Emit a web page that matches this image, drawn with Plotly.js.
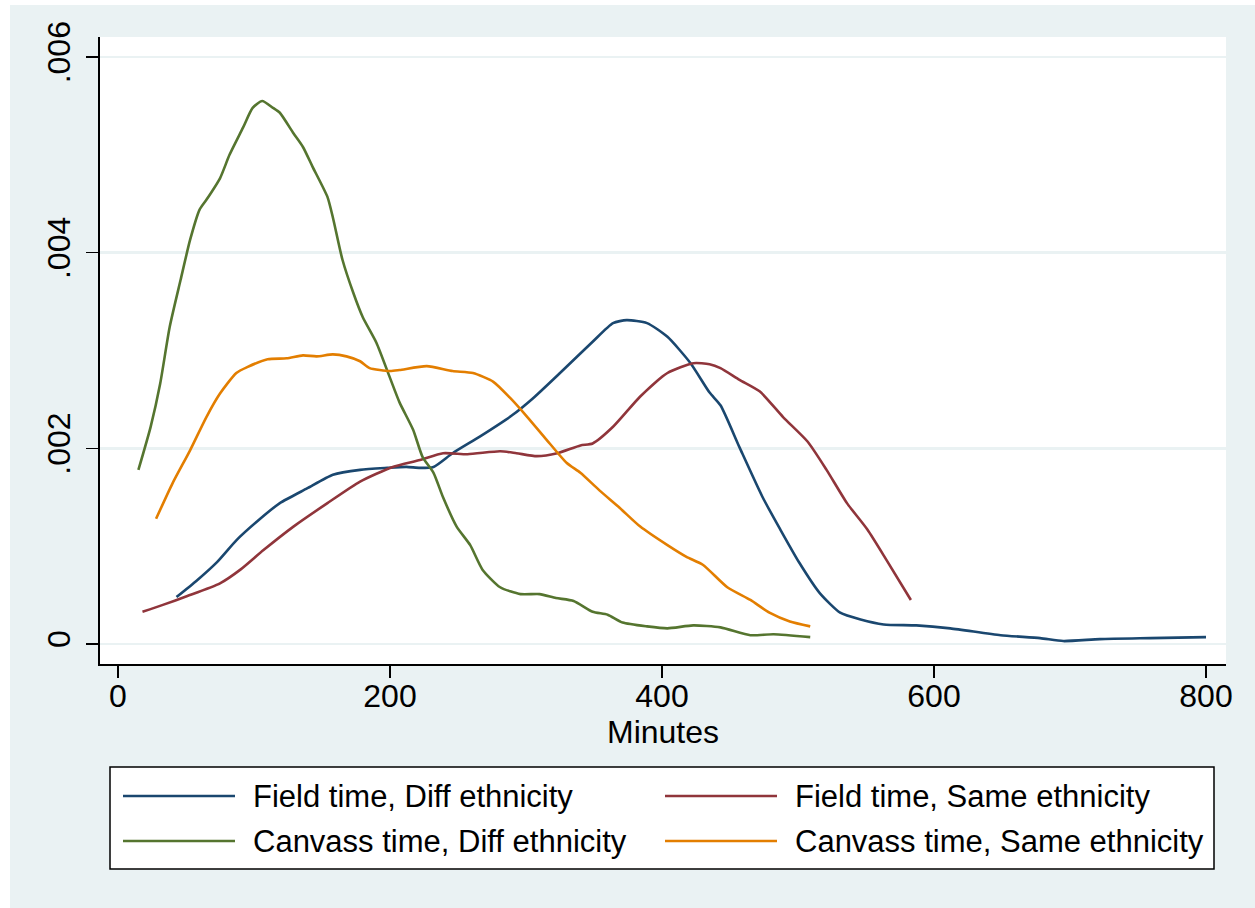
<!DOCTYPE html>
<html>
<head>
<meta charset="utf-8">
<script src="https://cdn.plot.ly/plotly-3.0.1.min.js"></script>
<style>html,body{margin:0;padding:0;background:#fff;}#chart{width:1255px;height:908px;}</style>
</head>
<body>
<div id="chart"></div>
<script>
// ---- data ----
const seriesNames = ["Field time, Diff ethnicity", "Field time, Same ethnicity",
                     "Canvass time, Diff ethnicity", "Canvass time, Same ethnicity"];
const seriesColors = ["#1a476f", "#90353b", "#55752f", "#e37e00"];

const fieldDiffX = [43, 58, 73, 87, 102, 119, 139, 158, 178, 198, 212, 222, 232, 246, 266, 290, 305, 325, 349, 364, 374, 389, 404, 421, 435, 443, 457, 474, 487, 501, 516, 531, 546, 563, 587, 612, 649, 678, 695, 722, 759, 800];
const fieldDiffY = [0.00048, 0.00065, 0.00084, 0.00106, 0.00125, 0.00144, 0.00159, 0.00173, 0.00178, 0.00180, 0.00181, 0.00180, 0.00181, 0.00195, 0.00212, 0.00234, 0.00251, 0.00277, 0.00309, 0.00328, 0.00331, 0.00328, 0.00314, 0.00287, 0.00257, 0.00244, 0.00201, 0.00150, 0.00117, 0.00083, 0.00052, 0.00032, 0.00025, 0.00020, 0.00019, 0.00016, 0.00009, 0.00006, 0.00003, 0.00005, 0.00006, 0.00007];

const fieldSameX = [18, 33, 51, 75, 90, 107, 129, 154, 178, 202, 222, 239, 257, 281, 293, 308, 323, 340, 349, 364, 384, 404, 423, 435, 443, 457, 472, 489, 507, 521, 536, 551, 565, 583];
const fieldSameY = [0.00033, 0.00040, 0.00049, 0.00062, 0.00076, 0.00096, 0.00120, 0.00144, 0.00166, 0.00181, 0.00188, 0.00195, 0.00194, 0.00197, 0.00195, 0.00192, 0.00195, 0.00203, 0.00205, 0.00222, 0.00253, 0.00277, 0.00287, 0.00286, 0.00282, 0.00270, 0.00258, 0.00232, 0.00207, 0.00178, 0.00144, 0.00117, 0.00086, 0.00045];

const canvDiffX = [15, 24, 31, 38, 46, 53, 60, 65, 75, 82, 92, 99, 106, 114, 119, 129, 136, 143, 154, 158, 165, 173, 180, 190, 200, 207, 217, 224, 232, 239, 249, 259, 268, 281, 296, 310, 322, 335, 349, 360, 371, 389, 404, 423, 443, 465, 482, 509];
const canvDiffY = [0.00178, 0.00222, 0.00266, 0.00324, 0.00372, 0.00413, 0.00444, 0.00454, 0.00476, 0.00500, 0.00528, 0.00548, 0.00555, 0.00548, 0.00543, 0.00522, 0.00508, 0.00488, 0.00457, 0.00436, 0.00393, 0.00359, 0.00334, 0.00308, 0.00272, 0.00247, 0.00219, 0.00191, 0.00175, 0.00150, 0.00120, 0.00101, 0.00076, 0.00058, 0.00051, 0.00051, 0.00047, 0.00044, 0.00033, 0.00030, 0.00022, 0.00018, 0.00016, 0.00019, 0.00017, 0.00009, 0.00010, 0.00007];

const canvSameX = [28, 40, 53, 65, 75, 87, 95, 110, 124, 136, 146, 158, 168, 178, 185, 200, 207, 227, 246, 261, 276, 288, 301, 315, 330, 340, 354, 369, 384, 404, 418, 430, 448, 465, 479, 494, 509];
const canvSameY = [0.00128, 0.00164, 0.00198, 0.00232, 0.00256, 0.00277, 0.00283, 0.00291, 0.00292, 0.00295, 0.00294, 0.00296, 0.00294, 0.00289, 0.00282, 0.00279, 0.00280, 0.00284, 0.00279, 0.00277, 0.00268, 0.00252, 0.00232, 0.00209, 0.00185, 0.00175, 0.00157, 0.00139, 0.00120, 0.00101, 0.00089, 0.00081, 0.00058, 0.00045, 0.00032, 0.00023, 0.00018];

const xTickVals = [0, 200, 400, 600, 800];
const xTickText = ["0", "200", "400", "600", "800"];
const yTickVals = [0, 0.002, 0.004, 0.006];
const yTickText = ["0", ".002", ".004", ".006"];
const xTitle = "Minutes";

// ---- geometry (pixels) ----
const W = 1255, H = 908;
const L = 100, R = 1226, T = 37, B = 664;
const pw = R - L, ph = B - T;
const px = v => (v - L) / pw;           // pixel x -> paper x
const py = v => (B - v) / ph;           // pixel y -> paper y

const xs = [fieldDiffX, fieldSameX, canvDiffX, canvSameX];
const ys = [fieldDiffY, fieldSameY, canvDiffY, canvSameY];

const traces = xs.map((x, i) => ({
  x: x, y: ys[i], type: "scatter", mode: "lines", name: seriesNames[i],
  line: {color: seriesColors[i], width: 2.6, shape: "spline", smoothing: 0.6},
  showlegend: false, hoverinfo: "x+y"
}));

const FONT = "Liberation Sans, Arial, Helvetica, sans-serif";

// manual Stata-like legend: 2 columns x 2 rows
const legendOrder = [0, 1, 2, 3]; // row-major: [Field Diff, Field Same], [Canvass Diff, Canvass Same]
const colLine = [[123, 235], [665, 777]];
const colText = [254, 796];
const rowY = [796, 841];

const shapes = [
  // white page edge strips
  {type: "rect", xref: "paper", yref: "paper", x0: px(0), x1: px(10), y0: py(H), y1: py(0), fillcolor: "#ffffff", line: {width: 0}, layer: "below"},
  {type: "rect", xref: "paper", yref: "paper", x0: px(0), x1: px(W), y0: py(5), y1: py(0), fillcolor: "#ffffff", line: {width: 0}, layer: "below"},
  // legend box
  {type: "rect", xref: "paper", yref: "paper", x0: px(110), x1: px(1214), y0: py(869), y1: py(767), fillcolor: "#ffffff", line: {color: "#000000", width: 1.5}}
];
const annotations = [];
legendOrder.forEach((si, k) => {
  const r = Math.floor(k / 2), c = k % 2;
  shapes.push({type: "line", xref: "paper", yref: "paper", x0: px(colLine[c][0]), x1: px(colLine[c][1]), y0: py(rowY[r]), y1: py(rowY[r]), line: {color: seriesColors[si], width: 2.6}});
  annotations.push({xref: "paper", yref: "paper", x: px(colText[c]) - 3 / pw, y: py(rowY[r]), xanchor: "left", yanchor: "middle", showarrow: false, text: seriesNames[si], font: {family: FONT, size: 31, color: "#000"}});
});

const layout = {
  width: W, height: H,
  paper_bgcolor: "#EAF2F3", plot_bgcolor: "#ffffff",
  margin: {l: L, r: W - R, t: T, b: H - B, pad: 0},
  font: {family: FONT, size: 32, color: "#000"},
  xaxis: {
    range: [(L - 118) / 1.36, (R - 118) / 1.36],
    tickvals: xTickVals, ticktext: xTickText,
    ticks: "outside", ticklen: 12, tickwidth: 1.5, tickcolor: "#000",
    ticklabelstandoff: -9,
    showline: true, linecolor: "#000", linewidth: 2,
    showgrid: false, zeroline: false,
    tickfont: {family: FONT, size: 32, color: "#000"},
    title: {text: xTitle, font: {family: FONT, size: 32, color: "#000"}, standoff: 2},
    fixedrange: true
  },
  yaxis: {
    range: [(644 - B) / 97833, (644 - T) / 97833],
    tickvals: yTickVals, ticktext: yTickText, tickangle: -90,
    ticks: "outside", ticklen: 12, tickwidth: 1.5, tickcolor: "#000",
    ticklabelstandoff: 3,
    showline: true, linecolor: "#000", linewidth: 2,
    showgrid: true, gridcolor: "#EAF2F3", gridwidth: 2.5,
    zeroline: false,
    tickfont: {family: FONT, size: 32, color: "#000"},
    fixedrange: true
  },
  shapes: shapes,
  annotations: annotations,
  showlegend: false
};

Plotly.newPlot("chart", traces, layout, {displayModeBar: false, staticPlot: true});
</script>
</body>
</html>
